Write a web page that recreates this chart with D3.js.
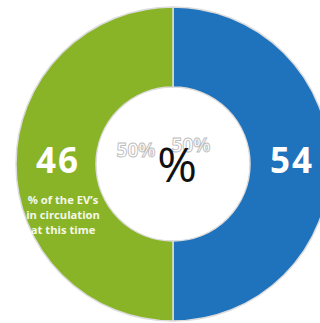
<!DOCTYPE html>
<html><head><meta charset="utf-8">
<script src="https://cdn.jsdelivr.net/npm/d3@7"></script>
<style>html,body{margin:0;padding:0;background:#fff;}svg{display:block;}</style>
</head><body>
<script>
// Data
const categories = ["EVs now", "EVs at this time"];
const shares = [50, 50];            // arc sizes shown (faint "50%" labels)
const values = [54, 46];            // big numbers shown on each half
const colors = ["#1f72bc", "#8ab427"];
const subtitle = ["% of the EV\u2019s", "in circulation", "at this time"];

const W = 320, H = 323;
const cx = 173, cy = 164, R = 157, r = 77;

const svg = d3.select("body").append("svg").attr("width", W).attr("height", H);
const g = svg.append("g").attr("transform", `translate(${cx},${cy})`);

const pie = d3.pie().sort(null).value(d => d.share);
const data = categories.map((c, i) => ({cat: c, share: shares[i], value: values[i], color: colors[i]}));
const arcs = pie(data);
const arc = d3.arc().innerRadius(r).outerRadius(R);

g.selectAll("path.slice").data(arcs).join("path")
  .attr("class", "slice")
  .attr("d", arc)
  .attr("fill", d => d.data.color)
  .attr("stroke", "#dcdcdc")
  .attr("stroke-width", 1.5);

// big numbers
const numPos = [[119, 9], [-115, 9]];
g.selectAll("text.num").data(arcs).join("text")
  .attr("class", "num")
  .attr("x", (d, i) => numPos[i][0])
  .attr("y", (d, i) => numPos[i][1])
  .attr("text-anchor", "middle")
  .attr("font-family", "'Open Sans', sans-serif")
  .attr("font-weight", 700)
  .attr("font-size", 35)
  .attr("letter-spacing", 2)
  .attr("fill", "#fff")
  .text(d => d.data.value);

// subtitle on green half
g.append("text")
  .attr("text-anchor", "middle")
  .attr("font-family", "'Open Sans', sans-serif")
  .attr("font-weight", 700)
  .attr("font-size", 11.2)
  .attr("fill", "#f4f8ea")
  .selectAll("tspan").data(subtitle).join("tspan")
  .attr("x", -110)
  .attr("y", (d, i) => 40 + i * 15)
  .text(d => d);

// faint share labels (outlined)
const sharePos = [[18, -12], [-37, -7]];
g.selectAll("text.share").data(arcs).join("text")
  .attr("class", "share")
  .attr("x", (d, i) => sharePos[i][0])
  .attr("y", (d, i) => sharePos[i][1])
  .attr("text-anchor", "middle")
  .attr("font-family", "'Open Sans', sans-serif")
  .attr("font-weight", 700)
  .attr("font-size", 19)
  .attr("fill", "#fff")
  .attr("stroke", "#bdbdbd")
  .attr("stroke-width", 0.9)
  .text(d => d.data.share + "%");

// center symbol
g.append("text")
  .attr("x", 4)
  .attr("y", 18)
  .attr("text-anchor", "middle")
  .attr("font-family", "'Open Sans', sans-serif")
  .attr("font-weight", 400)
  .attr("font-size", 48)
  .attr("fill", "#111")
  .text("%");
</script>
</body></html>
